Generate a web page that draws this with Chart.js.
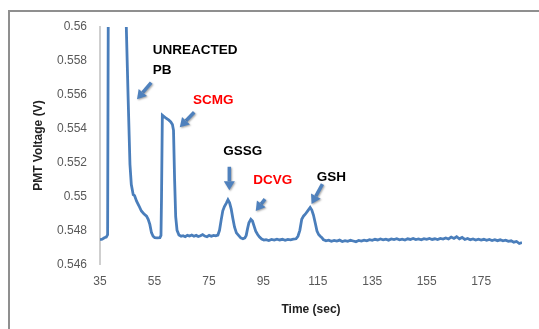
<!DOCTYPE html>
<html lang="en">
<head>
  <meta charset="utf-8">
  <title>PMT Voltage</title>
  <style>
    html, body { margin: 0; background: #fff; overflow: hidden; }
    canvas { display: block; }
  </style>
</head>

<body>
  <canvas id="myChart" width="539" height="329"></canvas>

  <script src="https://cdn.jsdelivr.net/npm/chart.js@4"></script>
  <script>
    // time in seconds
    var timeSec = [
      35, 35.8, 36.6, 37.3, 37.8, 38.2, 41.0, 44.3, 44.6, 45.3, 46.0, 46.5,
      47.2, 47.7, 48.4, 49.3, 50.2, 51.1, 52.1, 52.7, 53.3, 53.9, 54.5, 55.1, 56.0, 57.0, 57.4,
      57.6, 57.9, 58.5, 59.4, 60.3, 61.0, 61.6, 62.0, 62.4, 62.8, 63.3, 64.0, 64.8,
      65.5, 66.3, 67.1, 67.9, 68.7, 69.5, 70.3, 71.1, 71.9, 72.7, 73.5, 74.3, 75.1, 75.9, 76.7, 77.5, 78.3,
      78.9, 79.5, 80.1, 80.7, 81.4, 82.0, 82.6, 83.2, 83.8, 84.4, 85.1, 85.9, 86.7, 87.5, 88.2, 88.7,
      89.2, 89.7, 90.4, 91.0, 91.6, 92.2, 92.9, 93.6, 94.4, 95.2, 96, 97, 98, 99, 100, 101, 102, 103,
      104, 105, 106, 107, 107.7,
      108.4, 109.1, 109.8, 110.4, 111.3, 112.2, 112.8, 113.4, 114.1, 114.7, 115.3, 115.9, 116.6,
      117, 118, 119, 120, 121, 122, 123, 124, 125, 126, 127, 128, 129, 130, 131, 132, 133,
      134, 135, 136, 137, 138, 139, 140, 141, 142, 143, 144, 145, 146, 147, 148, 149, 150,
      151, 152, 153, 154, 155, 156, 157, 158, 159, 160, 161, 162, 163, 164, 165, 166, 167,
      168, 169, 170, 171, 172, 173, 174, 175, 176, 177, 178, 179, 180, 181, 182, 183, 184,
      185, 186, 187, 188, 189, 190
    ];

    // PMT voltage (V)
    var voltage = [
      0.54745, 0.54748, 0.54756, 0.54760, 0.54775, 0.57000, 0.57200, 0.56200, 0.56040, 0.55600, 0.55190, 0.55070,
      0.55010, 0.55005, 0.54973, 0.54945, 0.54914, 0.54898, 0.54884, 0.54865, 0.54835, 0.54786, 0.54765, 0.54757, 0.54755, 0.54757, 0.54770,
      0.55000, 0.55480, 0.55472, 0.55460, 0.55450, 0.55440, 0.55425, 0.55390, 0.55100, 0.54880, 0.54800, 0.54772, 0.54765,
      0.54768, 0.54762, 0.54770, 0.54766, 0.54772, 0.54765, 0.54770, 0.54763, 0.54768, 0.54775, 0.54766, 0.54762, 0.54770, 0.54765, 0.54770, 0.54767, 0.54772,
      0.54800, 0.54860, 0.54915, 0.54940, 0.54960, 0.54980, 0.54962, 0.54925, 0.54870, 0.54820, 0.54785, 0.54770, 0.54755, 0.54750, 0.54755, 0.54770,
      0.54810, 0.54845, 0.54865, 0.54855, 0.54825, 0.54795, 0.54775, 0.54760, 0.54748, 0.54742, 0.54745, 0.54740, 0.54746, 0.54742, 0.54748, 0.54743, 0.54747, 0.54741,
      0.54746, 0.54744, 0.54748, 0.54750, 0.54765,
      0.54800, 0.54865, 0.54885, 0.54895, 0.54915, 0.54935, 0.54920, 0.54890, 0.54840, 0.54796, 0.54775, 0.54765, 0.54755,
      0.54745, 0.54738, 0.54742, 0.54735, 0.54740, 0.54736, 0.54742, 0.54734, 0.54739, 0.54735, 0.54741, 0.54737, 0.54733, 0.54740, 0.54736, 0.54742, 0.54738,
      0.54745, 0.54741, 0.54747, 0.54743, 0.54749, 0.54744, 0.54748, 0.54742, 0.54749, 0.54745, 0.54750, 0.54744, 0.54748, 0.54743, 0.54750, 0.54746, 0.54752,
      0.54745, 0.54749, 0.54744, 0.54751, 0.54747, 0.54752, 0.54746, 0.54750, 0.54745, 0.54752, 0.54748, 0.54755, 0.54749, 0.54760, 0.54752, 0.54762, 0.54750,
      0.54758, 0.54746, 0.54752, 0.54744, 0.54749, 0.54743, 0.54748, 0.54742, 0.54747, 0.54741, 0.54746, 0.54740, 0.54745, 0.54739, 0.54744, 0.54738, 0.54742,
      0.54735, 0.54738, 0.54730, 0.54734, 0.54722, 0.54728
    ];

    var xTicks = [35, 55, 75, 95, 115, 135, 155, 175];
    var yTicks = [0.546, 0.548, 0.55, 0.552, 0.554, 0.556, 0.558, 0.56];

    // peak labels and arrows, placed in data units (sec, V)
    var notes = [
      { text: 'UNREACTED', t: 54.4, v: 0.55862, color: '#000' },
      { text: 'PB', t: 54.4, v: 0.55744, color: '#000' },
      { text: 'SCMG', t: 69.2, v: 0.55570, color: '#ff0000' },
      { text: 'GSSG', t: 80.3, v: 0.55269, color: '#000' },
      { text: 'DCVG', t: 91.3, v: 0.55095, color: '#ff0000' },
      { text: 'GSH', t: 114.6, v: 0.55112, color: '#000' }
    ];
    var arrows = [
      { t0: 53.8, v0: 0.55672, t1: 48.6, v1: 0.55573 },
      { t0: 69.6, v0: 0.55497, t1: 64.3, v1: 0.55408 },
      { t0: 82.5, v0: 0.55175, t1: 82.5, v1: 0.55037 },
      { t0: 95.6, v0: 0.54984, t1: 92.2, v1: 0.54914 },
      { t0: 116.7, v0: 0.55073, t1: 112.7, v1: 0.54955 }
    ];

    var points = timeSec.map(function(t, i) { return { x: t, y: voltage[i] }; });

    // outer chart frame (only left and top edges show in the picture)
    var framePlugin = {
      id: 'frame',
      beforeDraw: function(chart) {
        var ctx = chart.ctx;
        ctx.save();
        ctx.strokeStyle = '#8f8f8f';
        ctx.lineWidth = 2;
        ctx.beginPath();
        ctx.moveTo(9, chart.height);
        ctx.lineTo(9, 11);
        ctx.lineTo(chart.width, 11);
        ctx.stroke();
        ctx.restore();
      }
    };

    var notesPlugin = {
      id: 'notes',
      afterDatasetsDraw: function(chart) {
        var ctx = chart.ctx, xs = chart.scales.x, ys = chart.scales.y;
        ctx.save();
        ctx.font = 'bold 13.5px "Liberation Sans", Arial, sans-serif';
        ctx.textBaseline = 'middle';
        ctx.textAlign = 'left';
        notes.forEach(function(n) {
          ctx.fillStyle = n.color;
          ctx.fillText(n.text, xs.getPixelForValue(n.t), ys.getPixelForValue(n.v));
        });

        ctx.strokeStyle = '#4f81bd';
        ctx.fillStyle = '#4f81bd';
        ctx.shadowColor = 'rgba(0,0,0,0.35)';
        ctx.shadowBlur = 2;
        ctx.shadowOffsetX = 1;
        ctx.shadowOffsetY = 1;
        arrows.forEach(function(a) {
          var x0 = xs.getPixelForValue(a.t0), y0 = ys.getPixelForValue(a.v0);
          var x1 = xs.getPixelForValue(a.t1), y1 = ys.getPixelForValue(a.v1);
          var ang = Math.atan2(y1 - y0, x1 - x0);
          var head = 9, half = 5.5;
          var bx = x1 - head * Math.cos(ang), by = y1 - head * Math.sin(ang);
          ctx.lineWidth = 3.5;
          ctx.beginPath();
          ctx.moveTo(x0, y0);
          ctx.lineTo(bx, by);
          ctx.stroke();
          ctx.beginPath();
          ctx.moveTo(x1, y1);
          ctx.lineTo(bx + half * Math.sin(ang), by - half * Math.cos(ang));
          ctx.lineTo(bx - half * Math.sin(ang), by + half * Math.cos(ang));
          ctx.closePath();
          ctx.fill();
        });
        ctx.restore();
      }
    };

    var ctx = document.getElementById('myChart').getContext('2d');
    var chart = new Chart(ctx, {
      type: 'line',
      data: {
        datasets: [{
          data: points,
          borderColor: '#4a7ebb',
          borderWidth: 2.8,
          pointRadius: 0,
          tension: 0,
          fill: false
        }]
      },
      options: {
        responsive: false,
        animation: false,
        events: [],
        layout: { padding: { left: 27, right: 17, top: 27, bottom: 12 } },
        plugins: { legend: { display: false }, tooltip: { enabled: false } },
        scales: {
          x: {
            type: 'linear',
            min: 35,
            max: 190,
            grid: { display: false, drawTicks: false },
            border: { display: false },
            afterBuildTicks: function(scale) {
              scale.ticks = xTicks.map(function(v) { return { value: v }; });
            },
            ticks: {
              padding: 10,
              color: '#595959',
              font: { family: '"Liberation Sans", Arial, sans-serif', size: 12 },
              maxRotation: 0,
              autoSkip: false
            },
            title: {
              display: true,
              text: 'Time (sec)',
              color: '#222',
              padding: { top: 4, bottom: 0 },
              font: { family: '"Liberation Sans", Arial, sans-serif', size: 12, weight: 'bold' }
            }
          },
          y: {
            min: 0.546,
            max: 0.56,
            grid: { display: false, drawTicks: false },
            border: { display: true, color: '#cfcfcf', width: 2 },
            afterBuildTicks: function(scale) {
              scale.ticks = yTicks.map(function(v) { return { value: v }; });
            },
            afterFit: function(scale) { scale.width = 73; },
            ticks: {
              padding: 13,
              color: '#595959',
              font: { family: '"Liberation Sans", Arial, sans-serif', size: 12 },
              callback: function(v) { return String(Number(v.toFixed(3))); }
            },
            title: {
              display: true,
              text: 'PMT Voltage (V)',
              color: '#222',
              padding: { top: 4, bottom: 4 },
              font: { family: '"Liberation Sans", Arial, sans-serif', size: 12, weight: 'bold' }
            }
          }
        }
      },
      plugins: [framePlugin, notesPlugin]
    });
  </script>
</body>
</html>
